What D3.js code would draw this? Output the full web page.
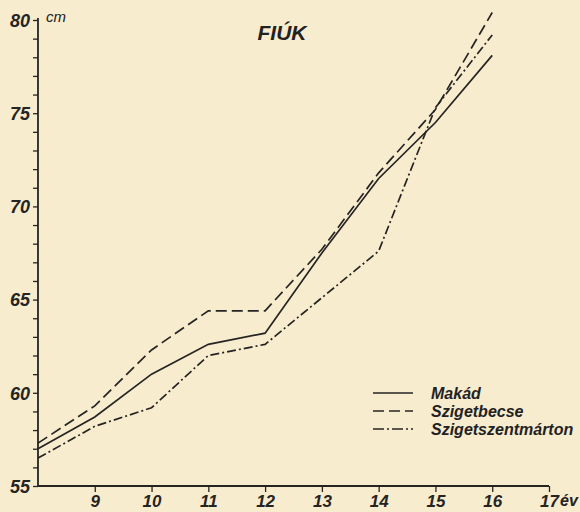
<!DOCTYPE html>
<html>
<head>
<meta charset="utf-8">
<script src="https://cdn.jsdelivr.net/npm/d3@7"></script>
<style>
  body {margin: 0; background: #f8eccf;}
  text {font-family: 'Liberation Sans', Arial, sans-serif; font-style: italic; fill: #222;}
</style>
</head>
<body>
<div id='graph'></div>
<script>

var ages = [8, 9, 10, 11, 12, 13, 14, 15, 16]
var makad = [57.0, 58.7, 61.0, 62.6, 63.2, 67.5, 71.5, 74.5, 78.1]
var szigetbecse = [57.3, 59.3, 62.3, 64.4, 64.4, 67.7, 71.8, 75.2, 80.4]
var szigetszentmarton = [56.5, 58.2, 59.2, 62.0, 62.6, 65.1, 67.6, 75.3, 79.2]

var xTicks = [9, 10, 11, 12, 13, 14, 15, 16, 17]
var yTicks = [55, 60, 65, 70, 75, 80]
var seriesNames = ['Makád', 'Szigetbecse', 'Szigetszentmárton']

var width = 580, height = 512
var ink = '#262422'

var svg = d3.select('#graph').append('svg')
  .attr('width', width).attr('height', height)

var x = d3.scaleLinear().domain([8, 17]).range([38, 549])
var y = d3.scaleLinear().domain([55, 80]).range([486, 20])

// y axis with a tick every cm, labels every 5
var yAxis = d3.axisLeft(y)
  .tickValues(d3.range(55, 81))
  .tickSize(5)
  .tickFormat(d => yTicks.includes(d) ? d : '')

svg.append('g')
  .attr('transform', `translate(${x(8)},0)`)
  .call(yAxis)
  .call(g => g.select('.domain').attr('stroke', ink).attr('stroke-width', 1.8).attr('d', `M0,${y(55)}V${y(80) - 2}`))
  .call(g => g.selectAll('.tick line').attr('stroke', ink).attr('stroke-width', 1.3))
  .call(g => g.selectAll('.tick text')
    .attr('x', -8).attr('dy', '0.35em')
    .style('font-size', '18px').style('font-weight', 'bold').style('fill', ink))

var xAxis = d3.axisBottom(x)
  .tickValues(xTicks)
  .tickSize(6)

svg.append('g')
  .attr('transform', `translate(0,${y(55)})`)
  .call(xAxis)
  .call(g => g.select('.domain').attr('stroke', ink).attr('stroke-width', 1.8).attr('d', `M${x(8)},0H${x(17)}`))
  .call(g => g.selectAll('.tick line').attr('stroke', ink).attr('stroke-width', 1.3))
  .call(g => g.selectAll('.tick text')
    .attr('y', 9).attr('dy', '0.71em')
    .style('font-size', '17px').style('font-weight', 'bold').style('fill', ink))

// unit after the last x tick
svg.append('text')
  .attr('x', x(17) + 11).attr('y', y(55) + 9).attr('dy', '0.71em')
  .text('év')
  .style('font-size', '16px').style('font-weight', 'bold')

svg.append('text')
  .attr('x', x(8) + 8).attr('y', y(80) + 2)
  .text('cm')
  .style('font-size', '15px')

svg.append('text')
  .attr('x', 282).attr('y', 40)
  .attr('text-anchor', 'middle')
  .text('FIÚK')
  .style('font-size', '21px').style('font-weight', 'bold')

var dashes = ['none', '11,5', '9,3,2,3']
var series = [makad, szigetbecse, szigetszentmarton]

var line = d3.line()
  .x((d, i) => x(ages[i]))
  .y(d => y(d))

svg.selectAll('path.series').data(series).enter().append('path')
  .attr('class', 'series')
  .attr('d', line)
  .attr('fill', 'none')
  .attr('stroke', ink)
  .attr('stroke-width', 1.7)
  .attr('stroke-dasharray', (d, i) => dashes[i])

// legend
var legendSel = svg.selectAll('g.legend').data(seriesNames).enter().append('g')
  .attr('class', 'legend')
  .attr('transform', (d, i) => `translate(373,${393 + i * 18})`)

legendSel.append('line')
  .attr('x1', 0).attr('x2', 40)
  .attr('stroke', ink).attr('stroke-width', 1.7)
  .attr('stroke-dasharray', (d, i) => i == 2 ? '11,3,2,3' : dashes[i])

legendSel.append('text')
  .attr('x', 58).attr('dy', '0.35em')
  .text(d => d)
  .style('font-size', '16px').style('font-weight', 'bold')

</script>
</body>
</html>
